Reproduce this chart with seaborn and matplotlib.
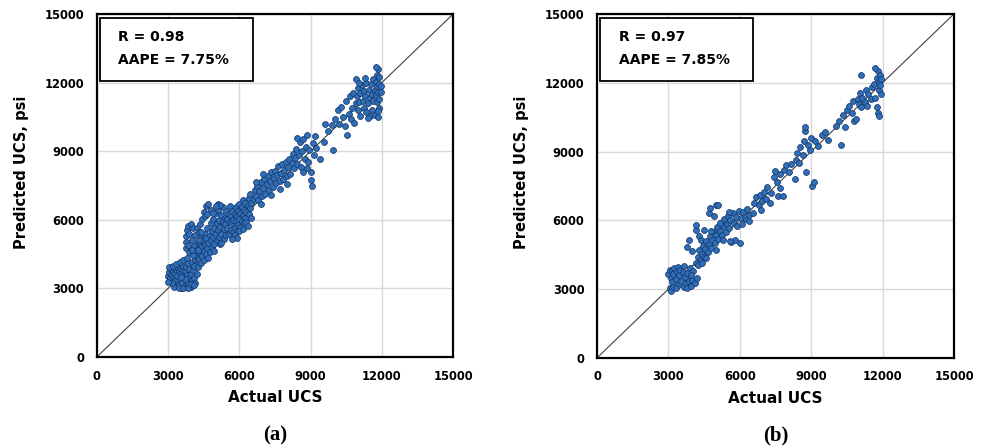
import numpy as np
import pandas as pd
import seaborn as sns
import matplotlib.pyplot as plt
from matplotlib.patches import Rectangle

# (actual UCS, predicted UCS) pairs
ucs_a = [
    # lower-left cluster
    (3000, 3550), (3050, 3700), (3100, 3450), (3100, 3850), (3150, 3600), (3150, 3950), (3200, 3300), (3200, 3750),
    (3250, 3900), (3250, 3500), (3300, 3650), (3300, 3100), (3350, 3850), (3350, 3350), (3400, 3950), (3400, 3550),
    (3450, 3750), (3450, 3150), (3500, 3900), (3500, 3400), (3550, 3650), (3550, 3000), (3600, 3850), (3600, 3250),
    (3650, 4000), (3650, 3550), (3700, 3100), (3700, 3750), (3750, 3350), (3750, 3950), (3800, 3050), (3800, 3600),
    (3850, 4100), (3850, 3250), (3900, 3450), (3900, 3850), (3950, 3050), (3950, 3650), (4000, 4150), (4000, 3350),
    (4050, 3150), (4050, 3800), (4100, 4000), (4100, 3450), (4150, 3250), (4150, 4250), (4200, 3650), (4200, 4400),
    (4250, 3950), (4250, 4200), (3250, 3050), (3450, 3000), (3650, 3000), (3850, 3000), (3700, 3400), (3550, 3500),
    (3950, 3200), (4100, 3150), (3050, 3950), (3200, 4000), (3350, 4050), (3500, 4150), (3650, 4250), (3800, 4350),
    (3150, 3250), (3000, 3300),
    # arm above the line
    (3750, 4750), (3750, 5050), (3750, 5300), (3800, 5550), (3850, 5750), (3900, 5400), (3950, 5800), (4000, 5100),
    (4050, 5650), (4100, 4850), (4150, 5350), (4200, 5650), (4250, 5000), (4300, 5450), (4350, 5800), (4400, 5200),
    (3900, 4600), (4050, 4450), (4200, 4700), (4350, 4950), (3850, 4900), (4000, 4700),
    # main band
    (4300, 4300), (4350, 4550), (4400, 4100), (4400, 4800), (4450, 4400), (4450, 5100), (4500, 4650), (4500, 4250),
    (4550, 4900), (4550, 5400), (4600, 4500), (4600, 5200), (4650, 4750), (4650, 5650), (4700, 4350), (4700, 5000),
    (4750, 5350), (4750, 4600), (4800, 5850), (4800, 5100), (4850, 4800), (4850, 5500), (4900, 5250), (4900, 6050),
    (4950, 4950), (4950, 5650), (5000, 5400), (5000, 6300), (5050, 5100), (5050, 5850), (5100, 5550), (5100, 6450),
    (5150, 5250), (5150, 6000), (5200, 5700), (5200, 4950), (5250, 6200), (5250, 5400), (5300, 5900), (5300, 6550),
    (5350, 5600), (5350, 5150), (5400, 6100), (5400, 5800), (5450, 5350), (5450, 6400), (5500, 5650), (5500, 6050),
    (5550, 5400), (5550, 6250), (5600, 5900), (5600, 6600), (5650, 5550), (5650, 6150), (5700, 5850), (5700, 6400),
    (5750, 5450), (5750, 6000), (5800, 6250), (5800, 5650), (5850, 5950), (5850, 6550), (5900, 6150), (5900, 5500),
    (5950, 6400), (5950, 5800), (6000, 6050), (6000, 6700), (6050, 5700), (6050, 6300), (6100, 5950), (6100, 6550),
    (6150, 6200), (6150, 6850), (6200, 5850), (6200, 6450), (6250, 6100), (6250, 6750), (6300, 6350), (6300, 5900),
    (6350, 6600), (6400, 6250), (6400, 6950), (6450, 6500), (6450, 7150), (6500, 6750), (6500, 6100), (5800, 5350),
    (6000, 5500), (6350, 5750), (5900, 5200), (6150, 5600), (5700, 5150), (4450, 6050), (4500, 6350), (4600, 6600),
    (4700, 6700), (4800, 6450), (4550, 6150), (5100, 6700), (5200, 6650), (4650, 6250), (4900, 6300), (5000, 6600),
    (4950, 4650), (5250, 5000), (4400, 5450), (4300, 5100), (4250, 4700),
    # middle
    (6600, 6900), (6650, 7300), (6700, 7050), (6750, 7500), (6800, 6850), (6850, 7250), (6900, 7650), (6950, 7050),
    (7000, 7400), (7050, 7800), (7100, 7150), (7150, 7550), (7200, 7900), (7250, 7300), (7300, 7700), (7350, 8100),
    (7400, 7450), (7450, 7850), (7500, 8150), (7550, 7600), (7600, 7950), (7650, 8350), (7700, 7700), (7750, 8050),
    (7800, 8450), (7850, 7800), (7900, 8200), (7950, 8550), (8000, 7900), (8050, 8300), (8100, 8650), (8150, 8000),
    (6700, 7650), (7000, 8000), (7350, 7100), (6900, 6700), (7700, 7350), (8000, 7550),
    (8200, 8500), (8250, 8900), (8300, 8250), (8350, 8700), (8400, 9100), (8450, 8450), (8500, 8850), (8550, 9400),
    (8600, 8300), (8650, 9000), (8700, 9550), (8750, 8650), (8800, 9200), (8850, 9700), (8900, 8550), (8950, 9050),
    (9000, 8100), (9000, 7750), (9050, 7500), (9100, 9350), (9150, 8850), (9200, 9650), (9250, 9150), (9400, 8650),
    (9550, 9400), (9950, 9050), (8450, 9600), (8700, 8100), (8850, 8250),
    # upper
    (9600, 10200), (9750, 9900), (9900, 10150), (10050, 10400), (10150, 10800), (10200, 10200), (10300, 10950),
    (10350, 10500), (10450, 10100), (10500, 11200), (10550, 9700), (10600, 10650), (10650, 11400), (10700, 10400),
    (10750, 10900), (10800, 11550), (10850, 10250), (10900, 11100),
    (10950, 11400), (11000, 10800), (11000, 11750), (11050, 11150), (11100, 10550), (11100, 11550), (11150, 11900),
    (11200, 11200), (11250, 10900), (11250, 11650), (11300, 11400), (11350, 10700), (11350, 12000), (11400, 11100),
    (11450, 11700), (11500, 11350), (11500, 10550), (11550, 11950), (11600, 11500), (11600, 10800), (11650, 12150),
    (11650, 11200), (11700, 11700), (11700, 10600), (11750, 11450), (11750, 12050), (11800, 11150), (11800, 11850),
    (11800, 12350), (11850, 11600), (11850, 10500), (11850, 12600), (11900, 11300), (11900, 11950), (11900, 12250),
    (11950, 11600), (11950, 11850), (11750, 12700), (10900, 12150), (11050, 12000), (11400, 10450), (11900, 10900),
    (11850, 10750), (11300, 12200),
]

ucs_b = [
    (3000, 3650), (3050, 3050), (3050, 3850), (3100, 2900), (3100, 3500), (3150, 3300), (3150, 3800), (3200, 3100),
    (3200, 3650), (3250, 3900), (3300, 3450), (3350, 3750), (3400, 3200), (3400, 3950), (3450, 3600), (3500, 3850),
    (3550, 3350), (3600, 3750), (3650, 3100), (3650, 4000), (3700, 3550), (3750, 3250), (3800, 3700), (3800, 3050),
    (3850, 3350), (3900, 3900), (3950, 3150), (4000, 3400), (4050, 3800), (4100, 3250), (4150, 4150), (4200, 3500),
    (4250, 4050), (3300, 3050), (3950, 3600),
    (3800, 4850), (3850, 5150), (4150, 5600), (4150, 5800), (4000, 4650), (4300, 5300), (4700, 6300), (4750, 6550),
    (4900, 6200), (5000, 6650), (5100, 6650), (4500, 5600), (4350, 5150),
    (4250, 4400), (4300, 4700), (4350, 4250), (4400, 4550), (4450, 4900), (4500, 4400), (4550, 4750), (4600, 5100),
    (4650, 4600), (4700, 4950), (4750, 5300), (4800, 4800), (4850, 5150), (4900, 5500), (4950, 5000), (5000, 5350),
    (5050, 5700), (5100, 5200), (5150, 5550), (5200, 5900), (5250, 5350), (5300, 5750), (5350, 6050), (5400, 5500),
    (5450, 5850), (5500, 6200), (5550, 5650), (5600, 6000), (5650, 5050), (5700, 6300), (5750, 5900), (5800, 5150),
    (5850, 6150), (5900, 5750), (5950, 6400), (6000, 5000), (6050, 6100), (6100, 5850), (6150, 6350), (6250, 6050),
    (6300, 6500), (6400, 6250), (4400, 4150), (4600, 4350), (5000, 4700), (5300, 5150), (5150, 5900), (5550, 6350),
    (4800, 5550), (5600, 5100), (6400, 5950),
    (6550, 6300), (6600, 6750), (6700, 7000), (6800, 6650), (6850, 7100), (6950, 6850), (7000, 7250), (7100, 6950),
    (7150, 7450), (7250, 6750), (7300, 7200), (7450, 7900), (7500, 8150), (7550, 7650), (7600, 7050), (7700, 7400),
    (7700, 8000), (7800, 7050), (7850, 8200), (7950, 8400), (8050, 8100), (8150, 8450), (6900, 6450),
    (8300, 7800), (8350, 8650), (8400, 8950), (8500, 8500), (8550, 9200), (8650, 8850), (8700, 9450), (8750, 9900),
    (8750, 10050), (8800, 8100), (8850, 9300), (8950, 9050), (9000, 9600), (9050, 7500), (9100, 7650), (9150, 9450),
    (9300, 9250), (9450, 9700), (9600, 9850), (9700, 9500),
    (10050, 10100), (10150, 10350), (10250, 9300), (10350, 10600), (10400, 10050), (10500, 10800), (10600, 11000),
    (10700, 10700), (10750, 11200), (10800, 10350), (10900, 10400), (10950, 11300),
    (11000, 11050), (11050, 11550), (11100, 12350), (11150, 11350), (11250, 11150), (11300, 11700), (11400, 11500),
    (11500, 11300), (11550, 11800), (11650, 11950), (11700, 11350), (11750, 12200), (11750, 10950), (11800, 12500),
    (11800, 10700), (11850, 11700), (11850, 12050), (11850, 10550), (11900, 12350), (11900, 11900), (11950, 11500),
    (11950, 12150), (11700, 12650), (11100, 10950), (11350, 11000),
]

stats = [("R = 0.98", "AAPE = 7.75%"), ("R = 0.97", "AAPE = 7.85%")]
panel_tags = ["(a)", "(b)"]
ticks = [0, 3000, 6000, 9000, 12000, 15000]

sns.set_style("white")
plt.rcParams['font.family'] = ['DejaVu Sans']
plt.rcParams['text.color'] = 'black'
plt.rcParams['axes.labelcolor'] = 'black'
plt.rcParams['xtick.color'] = 'black'
plt.rcParams['ytick.color'] = 'black'

fig = plt.figure(figsize=(9.83, 4.48), dpi=100)
axes = [fig.add_axes([0.0984, 0.203, 0.3625, 0.7656]),
        fig.add_axes([0.6073, 0.201, 0.3632, 0.768])]

for ax, pts, (r_txt, aape_txt), tag in zip(axes, [ucs_a, ucs_b], stats, panel_tags):
    df = pd.DataFrame(pts, columns=["actual", "predicted"])
    ax.set_axisbelow(True)
    ax.grid(True, color="#d9d9d9", linewidth=1.0)
    ax.plot([0, 15000], [0, 15000], color="#404040", linewidth=0.8, zorder=2)
    sns.scatterplot(data=df, x="actual", y="predicted", ax=ax, s=18,
                    color="#2f6fb8", edgecolor="#17356a", linewidth=0.55, zorder=3)
    ax.set_xlim(0, 15000)
    ax.set_ylim(0, 15000)
    ax.set_xticks(ticks)
    ax.set_yticks(ticks)
    ax.tick_params(length=0, pad=9, labelsize=8.3, colors="black")
    for lab in ax.get_xticklabels() + ax.get_yticklabels():
        lab.set_fontweight("bold")
    for sp in ax.spines.values():
        sp.set_color("black")
        sp.set_linewidth(1.6)
    ax.set_xlabel("Actual UCS", fontsize=11, fontweight="bold")
    ax.set_ylabel("Predicted UCS, psi", fontsize=10.5, fontweight="bold")
    ax.xaxis.set_label_coords(0.5, -0.095)
    ax.yaxis.set_label_coords(-0.19, 0.54)

    ax.add_patch(Rectangle((0.0095, 0.806), 0.428, 0.182, transform=ax.transAxes,
                           facecolor="white", edgecolor="black", linewidth=1.3, zorder=5))
    ax.text(0.061, 0.934, r_txt, transform=ax.transAxes, fontsize=10,
            fontweight="bold", va="center", ha="left", zorder=6)
    ax.text(0.061, 0.866, aape_txt, transform=ax.transAxes, fontsize=10,
            fontweight="bold", va="center", ha="left", zorder=6)

    pos = ax.get_position()
    fig.text(pos.x0 + pos.width / 2, 0.027, tag, fontsize=15, fontweight="bold",
             family=["Liberation Serif", "DejaVu Serif"], ha="center", va="center")

fig.savefig("out.png", dpi=100)
